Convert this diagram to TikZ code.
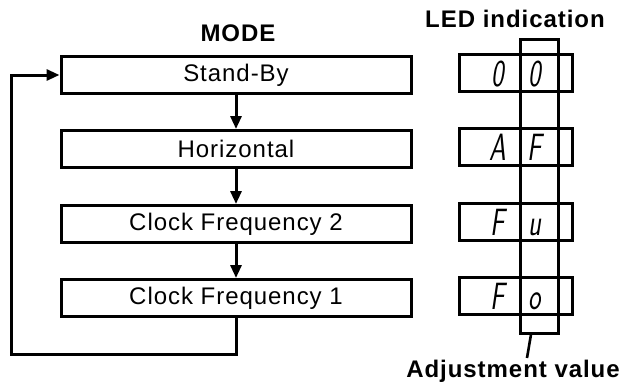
\documentclass[tikz,border=0pt]{standalone}
\usepackage{fontspec}
\setmainfont{Liberation Sans}
\newfontfamily\modefont{Liberation Sans}[LetterSpace=4]
\usetikzlibrary{arrows.meta}
\begin{document}
\begin{tikzpicture}[x=1pt,y=-1pt,
  modebox/.style={draw,line width=3pt,minimum width=350pt,minimum height=37pt,font=\modefont\fontsize{24}{26}\selectfont},
  ledbox/.style={draw,line width=3pt,minimum width=113pt,minimum height=37pt},
  digit/.style={font=\sffamily\slshape\fontsize{38}{40}\selectfont,xscale=0.7,inner sep=0pt,anchor=base},
  title/.style={font=\modefont\bfseries\fontsize{24}{26}\selectfont,inner sep=0pt},
  flow/.style={line width=3pt,-{Triangle[length=13pt,width=11pt]}}]
  \useasboundingbox (0,0) rectangle (633,389);
  \node[title] (mode) at (238,33) {MODE};
  \node[title] (led) at (515,19) {LED indication};
  \node[title] (adj) at (513,371) {Adjustment value};
  \node[modebox] (sb) at (236,75) {Stand-By};
  \node[modebox] (hz) at (236,149) {Horizontal};
  \node[modebox] (cf2) at (236,224) {Clock Frequency 2};
  \node[modebox] (cf1) at (236,298) {Clock Frequency 1};
  \draw[flow] (sb) -- (hz);
  \draw[flow] (hz) -- (cf2);
  \draw[flow] (cf2) -- (cf1);
  \draw[flow] (cf1.south) -- ++(0,36) -| ([xshift=-48pt]sb.west) -- (sb.west);
  \node[draw,line width=3pt,minimum width=38pt,minimum height=294pt] (col) at (539,186) {};
  \node[ledbox] (l1) at (516,73) {};
  \node[ledbox] (l2) at (516,147) {};
  \node[ledbox] (l3) at (516,222) {};
  \node[ledbox] (l4) at (516,296) {};
  \node[digit] (l1a) at (498,86) {0};
  \node[digit] (l1b) at (535,86) {0};
  \node[digit] (l2a) at (498,160) {A};
  \node[digit] (l2b) at (535,160) {F};
  \node[digit] (l3a) at (498,235) {F};
  \node[digit] (l3b) at (535,235) {u};
  \node[digit] (l4a) at (498,309) {F};
  \node[digit] (l4b) at (535,309) {o};
  \coordinate (tip) at (527,358);
  \draw[line width=2.6pt] ([xshift=-8pt]col.south) -- (tip);
\end{tikzpicture}
\end{document}
